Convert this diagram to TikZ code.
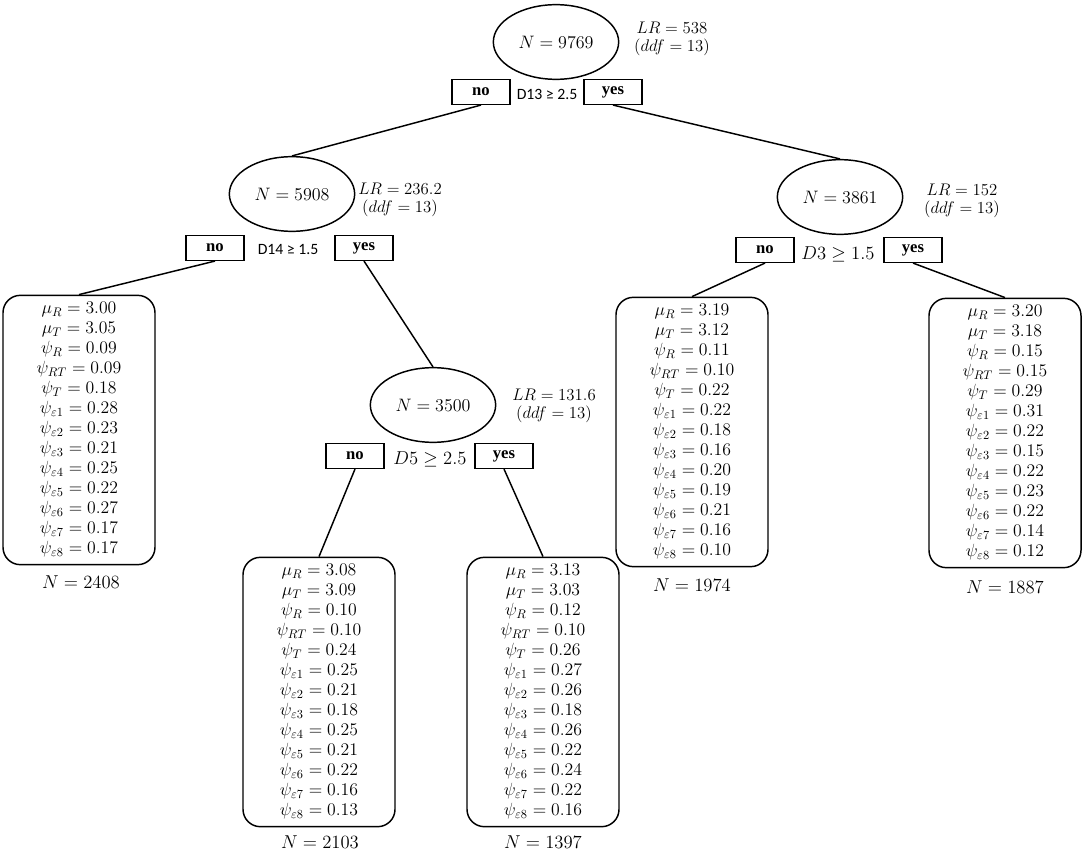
\documentclass[tikz,border=0pt]{standalone}
\usepackage{fontspec}
\DeclareFontShape{OT1}{cmr}{m}{n}{<-6> cmr5 <6-8> cmr7 <8-11> cmr10 <11-> cmr12}{}
\DeclareFontShape{OML}{cmm}{m}{it}{<-6> cmmi5 <6-8> cmmi7 <8-11> cmmi10 <11-> cmmi12}{}
\DeclareFontShape{OMS}{cmsy}{m}{n}{<-6> cmsy5 <6-8> cmsy7 <8-> cmsy10}{}
\newfontfamily\carlito{Carlito}
\newfontfamily\timesbf{Liberation Serif}
\usetikzlibrary{shapes.geometric}
\begin{document}
\begin{tikzpicture}[x=0.75pt,y=-0.75pt,line width=1.1pt,
  split/.style={ellipse,draw,minimum width=94pt,minimum height=56pt,inner sep=0pt,font=\fontsize{13.5}{16}\selectfont},
  stat/.style={align=center,font={\fontsize{12.6}{13}\selectfont\lineskiplimit=-6pt}},
  ans/.style={draw,minimum width=43.5pt,minimum height=18.5pt,inner sep=0pt,font=\timesbf\bfseries\fontsize{12.5}{14}\selectfont},
  cond/.style={font=\fontsize{14}{16}\selectfont},
  sanscond/.style={font=\carlito\fontsize{11.8}{14}\selectfont},
  leaf/.style={draw,rounded corners=13pt,minimum width=114pt,minimum height=202pt,align=center,inner sep=0pt,font={\fontsize{13.3}{15}\selectfont\lineskiplimit=-6pt}},
  count/.style={font=\fontsize{14}{16}\selectfont},
  edge/.style={line width=1.1pt}]
\useasboundingbox (0,0) rectangle (1084,855);

% root
\node[split] (r) at (556,42) {$N = 9769$};
\node[stat] (rs) at (672,39) {$LR = 538$\\$(ddf = 13)$};
\node[ans] (rno) at (481,92) {no};
\node[ans] (ryes) at (613,92) {yes};
\node[sanscond] (rc) at (547,94) {D13 ≥ 2.5};

% left split
\node[split] (a) at (292,194) {$N = 5908$};
\node[stat] (as) at (400,200) {$LR = 236.2$\\$(ddf = 13)$};
\node[ans] (ano) at (215,248) {no};
\node[ans] (ayes) at (364,248) {yes};
\node[sanscond] (ac) at (288,249) {D14 ≥ 1.5};

% right split
\node[split] (b) at (840,197) {$N = 3861$};
\node[stat] (bs) at (962,201) {$LR = 152$\\$(ddf = 13)$};
\node[ans] (bno) at (765,250) {no};
\node[ans] (byes) at (913,250) {yes};
\node[cond] (bc) at (838,254) {$D3 \geq 1.5$};

% lower split
\node[split] (c) at (433,405) {$N = 3500$};
\node[stat] (cs) at (554,406) {$LR = 131.6$\\$(ddf = 13)$};
\node[ans] (cno) at (355,456) {no};
\node[ans] (cyes) at (504,456) {yes};
\node[cond] (cc) at (430,459) {$D5 \geq 2.5$};

% leaves
\node[leaf] (l1) at (79,430) {$\mu_R = 3.00$\\$\mu_T = 3.05$\\$\psi_R = 0.09$\\$\psi_{RT} = 0.09$\\$\psi_T = 0.18$\\$\psi_{\varepsilon 1} = 0.28$\\$\psi_{\varepsilon 2} = 0.23$\\$\psi_{\varepsilon 3} = 0.21$\\$\psi_{\varepsilon 4} = 0.25$\\$\psi_{\varepsilon 5} = 0.22$\\$\psi_{\varepsilon 6} = 0.27$\\$\psi_{\varepsilon 7} = 0.17$\\$\psi_{\varepsilon 8} = 0.17$};
\node[count] (n1) at (81,582) {$N = 2408$};

\node[leaf] (l2) at (319,692) {$\mu_R = 3.08$\\$\mu_T = 3.09$\\$\psi_R = 0.10$\\$\psi_{RT} = 0.10$\\$\psi_T = 0.24$\\$\psi_{\varepsilon 1} = 0.25$\\$\psi_{\varepsilon 2} = 0.21$\\$\psi_{\varepsilon 3} = 0.18$\\$\psi_{\varepsilon 4} = 0.25$\\$\psi_{\varepsilon 5} = 0.21$\\$\psi_{\varepsilon 6} = 0.22$\\$\psi_{\varepsilon 7} = 0.16$\\$\psi_{\varepsilon 8} = 0.13$};
\node[count] (n2) at (320,842) {$N = 2103$};

\node[leaf] (l3) at (543,692) {$\mu_R = 3.13$\\$\mu_T = 3.03$\\$\psi_R = 0.12$\\$\psi_{RT} = 0.10$\\$\psi_T = 0.26$\\$\psi_{\varepsilon 1} = 0.27$\\$\psi_{\varepsilon 2} = 0.26$\\$\psi_{\varepsilon 3} = 0.18$\\$\psi_{\varepsilon 4} = 0.26$\\$\psi_{\varepsilon 5} = 0.22$\\$\psi_{\varepsilon 6} = 0.24$\\$\psi_{\varepsilon 7} = 0.22$\\$\psi_{\varepsilon 8} = 0.16$};
\node[count] (n3) at (543,842) {$N = 1397$};

\node[leaf] (l4) at (692,432) {$\mu_R = 3.19$\\$\mu_T = 3.12$\\$\psi_R = 0.11$\\$\psi_{RT} = 0.10$\\$\psi_T = 0.22$\\$\psi_{\varepsilon 1} = 0.22$\\$\psi_{\varepsilon 2} = 0.18$\\$\psi_{\varepsilon 3} = 0.16$\\$\psi_{\varepsilon 4} = 0.20$\\$\psi_{\varepsilon 5} = 0.19$\\$\psi_{\varepsilon 6} = 0.21$\\$\psi_{\varepsilon 7} = 0.16$\\$\psi_{\varepsilon 8} = 0.10$};
\node[count] (n4) at (692,585) {$N = 1974$};

\node[leaf] (l5) at (1005,433) {$\mu_R = 3.20$\\$\mu_T = 3.18$\\$\psi_R = 0.15$\\$\psi_{RT} = 0.15$\\$\psi_T = 0.29$\\$\psi_{\varepsilon 1} = 0.31$\\$\psi_{\varepsilon 2} = 0.22$\\$\psi_{\varepsilon 3} = 0.15$\\$\psi_{\varepsilon 4} = 0.22$\\$\psi_{\varepsilon 5} = 0.23$\\$\psi_{\varepsilon 6} = 0.22$\\$\psi_{\varepsilon 7} = 0.14$\\$\psi_{\varepsilon 8} = 0.12$};
\node[count] (n5) at (1005,587) {$N = 1887$};

% connectors
\draw[edge] (rno.south) -- (a.north);
\draw[edge] (ryes.south) -- (b.north);
\draw[edge] (ano.south) -- (l1.north);
\draw[edge] (ayes.south) -- (c.north);
\draw[edge] (cno.south) -- (l2.north);
\draw[edge] (cyes.south) -- (l3.north);
\draw[edge] (bno.south) -- (l4.north);
\draw[edge] (byes.south) -- (l5.north);
\end{tikzpicture}
\end{document}
